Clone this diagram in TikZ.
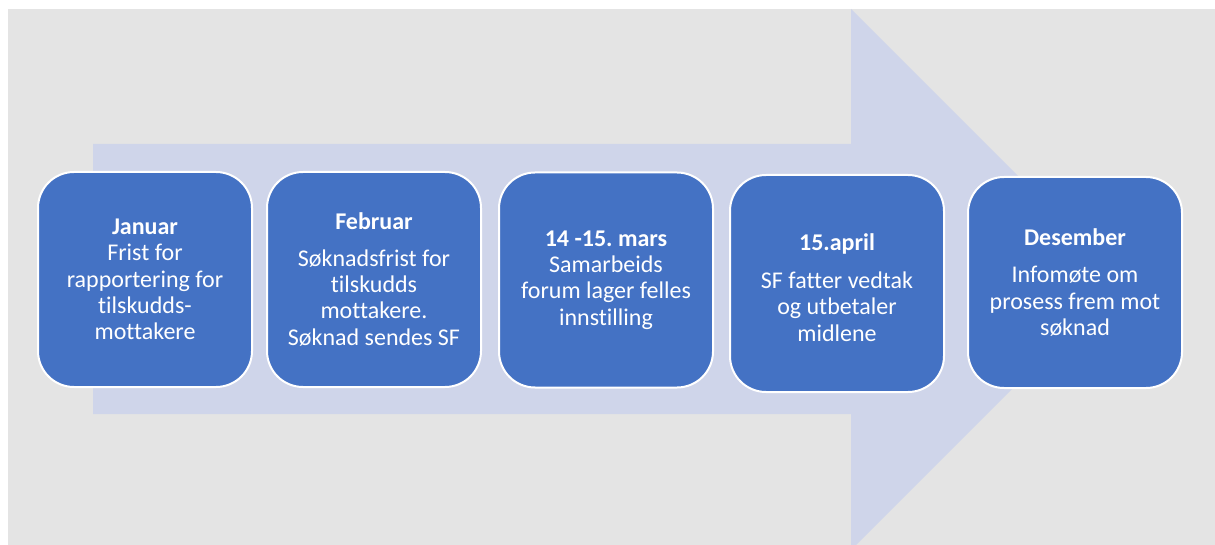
\documentclass[tikz,border=0pt]{standalone}
\usepackage{fontspec}
\setmainfont{Carlito}[Ligatures=NoCommon]
\frenchspacing
\definecolor{bggray}{HTML}{E4E4E4}
\definecolor{arrowfill}{HTML}{CFD5EA}
\definecolor{boxblue}{HTML}{4472C4}
\begin{document}
\begin{tikzpicture}[x=1pt,y=-1pt,
  stepbox/.style={draw=white, line width=2pt, fill=boxblue, rounded corners=36pt,
    minimum width=214pt, minimum height=215pt, inner sep=0pt},
  steptext/.style={text=white, align=center, font=\fontsize{24}{26.3}\selectfont, inner sep=0pt}
]
\useasboundingbox (0,0) rectangle (1215,545);
\fill[white] (0,0) rectangle (1215,545);
\fill[bggray] (8,9) rectangle (1215,545);
\begin{scope}
\clip (8,9) rectangle (1215,545);
\fill[arrowfill] (93,144) -- (851,144) -- (851,9) -- (1121.5,279.5) -- (851,550) -- (851,414) -- (93,414) -- cycle;
\end{scope}
\node[stepbox] (jan) at (145,279.5) {};
\node[steptext] (jant) at (jan.center) {\textbf{Januar}\\Frist for\\rapportering for\\tilskudds-\\mottakere};
\node[stepbox] (feb) at (374,279.5) {};
\node[steptext] (febt) at (feb.center) {\textbf{Februar}\\[10pt]Søknadsfrist for\\tilskudds\\mottakere.\\Søknad sendes SF};
\node[stepbox] (mar) at (606,280) {};
\node[steptext] (mart) at (mar.center) {\textbf{14 -15. mars}\\Samarbeids\\forum lager felles\\innstilling};
\node[stepbox, minimum height=217pt] (apr) at (837,283.5) {};
\node[steptext] (aprt) at ([yshift=-4pt]apr.center) {\textbf{15.april}\\[12pt]SF fatter vedtak\\og utbetaler\\midlene};
\node[stepbox, minimum height=211pt] (des) at (1075,282.5) {};
\node[steptext] (dest) at (des.center) {\textbf{Desember}\\[11pt]Infomøte om\\prosess frem mot\\søknad};
\end{tikzpicture}
\end{document}
